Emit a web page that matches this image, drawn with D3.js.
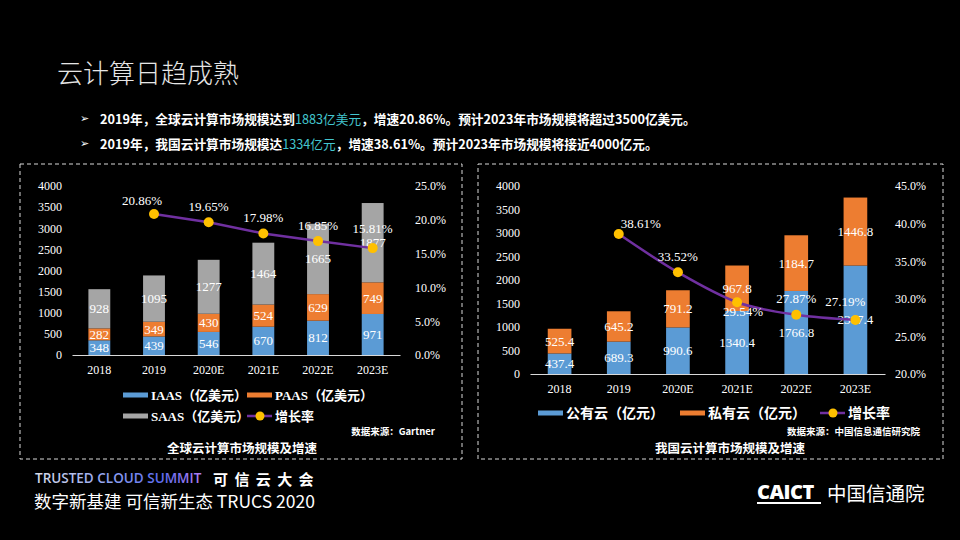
<!DOCTYPE html>
<html>
<head>
<meta charset="utf-8">
<script src="https://cdn.jsdelivr.net/npm/d3@7"></script>
<style>
  html, body { margin: 0; padding: 0; background: #000; }
  svg { display: block; }
</style>
</head>
<body>
<svg id="chart" width="960" height="540"></svg>
<script>
// ---------------- DATA ----------------
const years = ["2018", "2019", "2020E", "2021E", "2022E", "2023E"];

// Global cloud market (亿美元)
const globalIaas = [348, 439, 546, 670, 812, 971];
const globalPaas = [282, 349, 430, 524, 629, 749];
const globalSaas = [928, 1095, 1277, 1464, 1665, 1877];
const globalGrowthYears = ["2019", "2020E", "2021E", "2022E", "2023E"];
const globalGrowth = [20.86, 19.65, 17.98, 16.85, 15.81];
const globalLeftTicks = [0, 500, 1000, 1500, 2000, 2500, 3000, 3500, 4000];
const globalRightTicks = [0, 5, 10, 15, 20, 25];

// China cloud market (亿元)
const chinaPublic = [437.4, 689.3, 990.6, 1340.4, 1766.8, 2307.4];
const chinaPrivate = [525.4, 645.2, 791.2, 967.8, 1184.7, 1446.8];
const chinaGrowthYears = ["2019", "2020E", "2021E", "2022E", "2023E"];
const chinaGrowth = [38.61, 33.52, 29.54, 27.87, 27.19];
const chinaLeftTicks = [0, 500, 1000, 1500, 2000, 2500, 3000, 3500, 4000];
const chinaRightTicks = [20, 25, 30, 35, 40, 45];

// ---------------- STYLE ----------------
const C_BLUE = "#5B9BD5", C_ORANGE = "#ED7D31", C_GRAY = "#A5A5A5";
const C_LINE = "#7030A0", C_DOT = "#FFC000";
const SERIF = "'Liberation Serif', 'Times New Roman', serif";
const CJK = "'Noto Sans CJK SC', 'Noto Sans', sans-serif";
const MIXED = "'Liberation Serif', 'Noto Sans CJK SC', serif";

const svg = d3.select("#chart");
svg.append("rect").attr("width", 960).attr("height", 540).attr("fill", "#000");

// ---------------- HEADER ----------------
svg.append("text").attr("x", 57).attr("y", 71).attr("dominant-baseline", "central")
  .attr("font-family", CJK).attr("font-size", 26).attr("font-weight", 300)
  .attr("fill", "#e6e6e6").text("云计算日趋成熟");

const bullets = [
  ["2019年，全球云计算市场规模达到", "1883亿美元", "，增速20.86%。预计2023年市场规模将超过3500亿美元。"],
  ["2019年，我国云计算市场规模达", "1334亿元", "，增速38.61%。预计2023年市场规模将接近4000亿元。"]
];
bullets.forEach((b, i) => {
  const yy = 118 + i * 25;
  svg.append("text").attr("x", 80).attr("y", yy).attr("dominant-baseline", "central")
    .attr("font-family", "'DejaVu Sans', sans-serif").attr("font-size", 11)
    .attr("fill", "#ffffff").text("➢");
  const t = svg.append("text").attr("x", 100).attr("y", yy).attr("dominant-baseline", "central")
    .attr("font-family", CJK).attr("font-size", 12.7).attr("font-weight", 700).attr("fill", "#ffffff");
  t.append("tspan").text(b[0]);
  t.append("tspan").attr("fill", "#43C6CF").attr("font-weight", 400).text(b[1]);
  t.append("tspan").text(b[2]);
});

// ---------------- PANELS ----------------
function panel(x0, x1) {
  svg.append("rect").attr("x", x0).attr("y", 164).attr("width", x1 - x0).attr("height", 295)
    .attr("fill", "none").attr("stroke", "#d9d9d9").attr("stroke-width", 1)
    .attr("stroke-dasharray", "4,3");
}
panel(20, 462);
panel(478, 943);

// ---------------- CHART BUILDER ----------------
function buildChart(cfg) {
  const g = svg.append("g");
  const x = d3.scaleBand().domain(years).range([cfg.x0, cfg.x1])
    .paddingInner(0.6).paddingOuter(0.3);
  const y = d3.scaleLinear().domain([0, 4000]).range([cfg.yBase, cfg.yTop]);
  const yR = d3.scaleLinear().domain(cfg.rDomain).range([cfg.yBase, cfg.yTop]);

  // left axis
  const la = g.append("g").attr("transform", `translate(${cfg.leftLabelX},0)`)
    .call(d3.axisLeft(y).tickValues(cfg.leftTicks).tickSize(0).tickPadding(0).tickFormat(d3.format("d")));
  la.select(".domain").remove();
  la.selectAll("text").attr("font-family", SERIF).attr("font-size", 12).attr("fill", "#ffffff");

  // right axis
  const ra = g.append("g").attr("transform", `translate(${cfg.rightLabelX},0)`)
    .call(d3.axisRight(yR).tickValues(cfg.rightTicks).tickSize(0).tickPadding(0)
      .tickFormat(d => d.toFixed(1) + "%"));
  ra.select(".domain").remove();
  ra.selectAll("text").attr("font-family", SERIF).attr("font-size", 12).attr("fill", "#ffffff");

  // bars (stacked)
  const stackData = years.map((yr, i) => {
    const o = { year: yr };
    cfg.series.forEach(s => { o[s.key] = s.values[i]; });
    return o;
  });
  const stack = d3.stack().keys(cfg.series.map(s => s.key))(stackData);
  stack.forEach((layer, li) => {
    const s = cfg.series[li];
    g.append("g").selectAll("rect").data(layer).join("rect")
      .attr("x", d => x(d.data.year))
      .attr("width", x.bandwidth())
      .attr("y", d => y(d[1]))
      .attr("height", d => y(d[0]) - y(d[1]))
      .attr("fill", s.color);
  });
  // x axis line
  const xa = g.append("g").attr("transform", `translate(0,${cfg.yBase})`)
    .call(d3.axisBottom(x).tickSize(0).tickPadding(cfg.xLabelPad));
  xa.select(".domain").attr("stroke", "#d9d9d9").attr("stroke-width", 1.2);
  xa.selectAll("text").attr("font-family", SERIF).attr("font-size", 12).attr("fill", "#ffffff");

  // segment labels
  stack.forEach((layer, li) => {
    const s = cfg.series[li];
    g.append("g").selectAll("text").data(layer).join("text")
      .attr("x", d => x(d.data.year) + x.bandwidth() / 2)
      .attr("y", d => y((d[0] + d[1]) / 2))
      .attr("text-anchor", "middle").attr("dominant-baseline", "central")
      .attr("font-family", SERIF).attr("font-size", 13).attr("fill", "#ffffff")
      .text(d => s.values[years.indexOf(d.data.year)]);
  });

  // growth line
  const pts = cfg.growthYears.map((yr, i) => ({ yr, v: cfg.growth[i], pos: cfg.labelPos[i] }));
  const line = d3.line().x(d => x(d.yr) + x.bandwidth() / 2).y(d => yR(d.v)).curve(cfg.curve);
  g.append("path").datum(pts).attr("d", line).attr("fill", "none")
    .attr("stroke", C_LINE).attr("stroke-width", 2.5);
  g.append("g").selectAll("circle").data(pts).join("circle")
    .attr("cx", d => x(d.yr) + x.bandwidth() / 2).attr("cy", d => yR(d.v))
    .attr("r", 5).attr("fill", C_DOT);
  const off = { above: [0, -16], aboveHigh: [0, -20], aboveLeft: [-12, -13], aboveRight: [22, -11],
                belowRight: [6, 9], aboveLeftFar: [-10, -18] };
  g.append("g").selectAll("text").data(pts).join("text")
    .attr("x", d => x(d.yr) + x.bandwidth() / 2 + off[d.pos][0])
    .attr("y", d => yR(d.v) + off[d.pos][1])
    .attr("text-anchor", "middle").attr("dominant-baseline", "central")
    .attr("font-family", SERIF).attr("font-size", 13).attr("fill", "#ffffff")
    .text(d => d.v.toFixed(2) + "%");

  // legend
  cfg.legend.forEach(item => {
    if (item.type === "rect") {
      g.append("rect").attr("x", item.x).attr("y", item.y - 2.5).attr("width", 25).attr("height", 5)
        .attr("fill", item.color);
    } else {
      g.append("line").attr("x1", item.x).attr("x2", item.x + 25).attr("y1", item.y).attr("y2", item.y)
        .attr("stroke", C_LINE).attr("stroke-width", 2.5);
      g.append("circle").attr("cx", item.x + 13).attr("cy", item.y).attr("r", 4.5).attr("fill", C_DOT);
    }
    g.append("text").attr("x", item.x + 28).attr("y", item.y).attr("dominant-baseline", "central")
      .attr("font-family", MIXED).attr("font-size", cfg.legendSize).attr("font-weight", 700)
      .attr("fill", "#ffffff").text(item.label);
  });

  // source + subtitle
  g.append("text").attr("x", cfg.sourceX).attr("y", 431).attr("text-anchor", "end")
    .attr("dominant-baseline", "central").attr("font-family", CJK).attr("font-size", 9.5)
    .attr("font-weight", 700).attr("fill", "#ffffff").text(cfg.source);
  g.append("text").attr("x", cfg.titleX).attr("y", 447).attr("text-anchor", "middle")
    .attr("dominant-baseline", "central").attr("font-family", CJK).attr("font-size", 12.5)
    .attr("font-weight", 700).attr("fill", "#ffffff").text(cfg.title);
}

buildChart({
  x0: 72, x1: 400, yBase: 355, yTop: 186,
  rDomain: [0, 25], leftTicks: globalLeftTicks, rightTicks: globalRightTicks,
  leftLabelX: 62, rightLabelX: 415, xLabelPad: 10,
  series: [
    { key: "IAAS", values: globalIaas, color: C_BLUE },
    { key: "PAAS", values: globalPaas, color: C_ORANGE },
    { key: "SAAS", values: globalSaas, color: C_GRAY }
  ],
  growthYears: globalGrowthYears, growth: globalGrowth,
  labelPos: ["aboveLeft", "above", "above", "above", "aboveHigh"],
  curve: d3.curveLinear,
  legendSize: 13,
  legend: [
    { type: "rect", x: 123, y: 395, color: C_BLUE, label: "IAAS（亿美元）" },
    { type: "rect", x: 247, y: 395, color: C_ORANGE, label: "PAAS（亿美元）" },
    { type: "rect", x: 123, y: 416, color: C_GRAY, label: "SAAS（亿美元）" },
    { type: "line", x: 247, y: 416, label: "增长率" }
  ],
  sourceX: 435, source: "数据来源：Gartner",
  titleX: 242, title: "全球云计算市场规模及增速"
});

buildChart({
  x0: 530, x1: 885, yBase: 374, yTop: 186,
  rDomain: [20, 45], leftTicks: chinaLeftTicks, rightTicks: chinaRightTicks,
  leftLabelX: 520, rightLabelX: 895, xLabelPad: 10,
  series: [
    { key: "public", values: chinaPublic, color: C_BLUE },
    { key: "private", values: chinaPrivate, color: C_ORANGE }
  ],
  growthYears: chinaGrowthYears, growth: chinaGrowth,
  labelPos: ["aboveRight", "above", "belowRight", "above", "aboveLeftFar"],
  curve: d3.curveMonotoneX,
  legendSize: 14,
  legend: [
    { type: "rect", x: 538, y: 413, color: C_BLUE, label: "公有云（亿元）" },
    { type: "rect", x: 680, y: 413, color: C_ORANGE, label: "私有云（亿元）" },
    { type: "line", x: 820, y: 413, label: "增长率" }
  ],
  sourceX: 920, source: "数据来源：中国信息通信研究院",
  titleX: 730, title: "我国云计算市场规模及增速"
});

// ---------------- FOOTER ----------------
const defs = svg.append("defs");
const grad = defs.append("linearGradient").attr("id", "tcs").attr("x1", "0%").attr("x2", "100%");
grad.append("stop").attr("offset", "0%").attr("stop-color", "#d8dce6");
grad.append("stop").attr("offset", "45%").attr("stop-color", "#8fa2f0");
grad.append("stop").attr("offset", "75%").attr("stop-color", "#5b6cf0");
grad.append("stop").attr("offset", "100%").attr("stop-color", "#b07cf0");

svg.append("text").attr("x", 35).attr("y", 478).attr("dominant-baseline", "central")
  .attr("font-family", "'Open Sans', sans-serif").attr("font-size", 13.5).attr("font-weight", 600)
  .attr("letter-spacing", 0).attr("fill", "url(#tcs)").text("TRUSTED CLOUD SUMMIT");
svg.append("text").attr("x", 213).attr("y", 478).attr("dominant-baseline", "central")
  .attr("font-family", CJK).attr("font-size", 15).attr("font-weight", 700)
  .attr("letter-spacing", 1.5).attr("fill", "#ffffff").text("可 信 云 大 会");
svg.append("text").attr("x", 34).attr("y", 500).attr("dominant-baseline", "central")
  .attr("font-family", CJK).attr("font-size", 17.5).attr("fill", "#ffffff")
  .text("数字新基建 可信新生态 TRUCS 2020");

svg.append("text").attr("x", 757).attr("y", 491).attr("dominant-baseline", "central")
  .attr("font-family", "'Open Sans', sans-serif").attr("font-size", 20).attr("font-weight", 800)
  .attr("letter-spacing", -0.5).attr("fill", "#ffffff").text("CAICT");
svg.append("rect").attr("x", 757).attr("y", 502).attr("width", 64).attr("height", 2).attr("fill", "#ffffff");
svg.append("text").attr("x", 827).attr("y", 492).attr("dominant-baseline", "central")
  .attr("font-family", CJK).attr("font-size", 19.5).attr("fill", "#ffffff").text("中国信通院");
</script>
</body>
</html>
